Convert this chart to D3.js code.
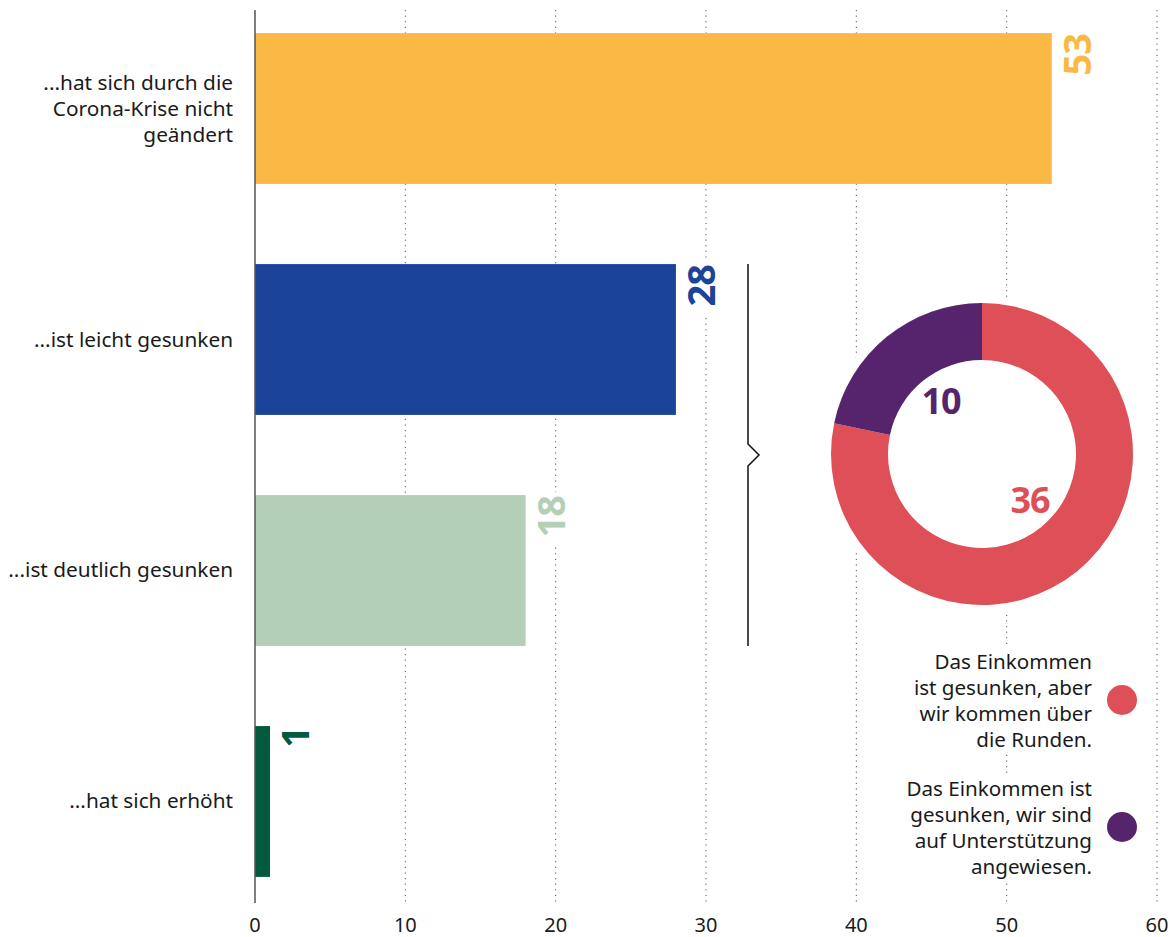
<!DOCTYPE html>
<html>
<head>
<meta charset="utf-8">
<script src="https://cdn.jsdelivr.net/npm/d3@7"></script>
<style>
  body { margin: 0; background: #fff; }
  svg { display: block; font-family: "Noto Sans", sans-serif; }
</style>
</head>
<body>
<div id="app"></div>
<script>
// data
var categories = ['erhalten', 'leicht', 'deutlich', 'erhoeht'];
var categoryLines = [
  ['...hat sich durch die', 'Corona-Krise nicht', 'geändert'],
  ['...ist leicht gesunken'],
  ['...ist deutlich gesunken'],
  ['...hat sich erhöht']
];
var values = [53, 28, 18, 1];
var barColors = ['#F9B944', '#1A4399', '#B3CFB6', '#03593D'];
var xTicks = [0, 10, 20, 30, 40, 50, 60];

var donutValues = [36, 10];
var donutColors = ['#DE4F58', '#56246C'];
var legendLines = [
  ['Das Einkommen', 'ist gesunken, aber', 'wir kommen über', 'die Runden.'],
  ['Das Einkommen ist', 'gesunken, wir sind', 'auf Unterstützung', 'angewiesen.']
];

var width = 1171, height = 937;
var plotLeft = 255, plotRight = 1157, plotTop = 10, plotBottom = 903;

var svg = d3.select('#app').append('svg')
  .attr('width', width)
  .attr('height', height);

var x = d3.scaleLinear().domain([0, 60]).range([plotLeft, plotRight]);
var y = d3.scaleBand().domain(categories)
  .range([plotTop, plotBottom - 3])
  .paddingInner(0.347)
  .paddingOuter(0.1);

// grid
svg.append('g')
  .selectAll('line')
  .data(xTicks.slice(1))
  .enter().append('line')
  .attr('x1', d => x(d)).attr('x2', d => x(d))
  .attr('y1', plotTop).attr('y2', plotBottom)
  .attr('stroke', '#555')
  .attr('stroke-width', 1)
  .attr('stroke-dasharray', '1.2,4.4');

// tick labels
svg.append('g')
  .selectAll('text')
  .data(xTicks)
  .enter().append('text')
  .attr('x', d => x(d))
  .attr('y', 932)
  .attr('text-anchor', 'middle')
  .attr('font-size', 20)
  .attr('fill', '#1a1a1a')
  .text(d => d);

// bars
svg.append('g')
  .selectAll('rect')
  .data(values)
  .enter().append('rect')
  .attr('x', x(0))
  .attr('y', (d, i) => y(categories[i]))
  .attr('width', d => x(d) - x(0))
  .attr('height', y.bandwidth())
  .attr('fill', (d, i) => barColors[i]);

// axis line
svg.append('line')
  .attr('x1', plotLeft).attr('x2', plotLeft)
  .attr('y1', plotTop).attr('y2', plotBottom)
  .attr('stroke', '#555')
  .attr('stroke-width', 1.5);

// category labels
var cat = svg.append('g').selectAll('text')
  .data(categoryLines)
  .enter().append('text')
  .attr('text-anchor', 'end')
  .attr('font-size', 20.8)
  .attr('fill', '#1a1a1a')
  .attr('transform', (d, i) => 'translate(233,' + (y(categories[i]) + y.bandwidth() / 2) + ')');
cat.each(function (lines) {
  var n = lines.length;
  d3.select(this).selectAll('tspan')
    .data(lines)
    .enter().append('tspan')
    .attr('x', 0)
    .attr('y', (l, j) => (j - (n - 1) / 2) * 26 + 7)
    .text(l => l);
});

// value labels, rotated
var vl = svg.append('g').selectAll('g')
  .data(values)
  .enter().append('g')
  .attr('transform', (d, i) => 'translate(' + (x(d) + 39) + ',' + (y(categories[i]) + 1) + ') rotate(-90)');
vl.append('rect')
  .attr('x', -50).attr('y', -32)
  .attr('width', 54).attr('height', 36)
  .attr('fill', '#fff');
vl.append('text')
  .attr('text-anchor', 'end')
  .attr('font-size', 38)
  .attr('font-weight', 700)
  .attr('letter-spacing', -1)
  .attr('fill', (d, i) => barColors[i])
  .text(d => d);

// bracket for the two "gesunken" bars
var bx = 748;
var by0 = y('leicht'), by1 = y('deutlich') + y.bandwidth();
var bm = (by0 + by1) / 2;
svg.append('path')
  .attr('d', 'M' + bx + ',' + by0 + 'V' + (bm - 11) + 'L' + (bx + 11) + ',' + bm + 'L' + bx + ',' + (bm + 11) + 'V' + by1)
  .attr('fill', 'none')
  .attr('stroke', '#111')
  .attr('stroke-width', 1.5);

// donut
var cx = 982, cy = 454, outerR = 151, innerR = 94;
var donut = svg.append('g').attr('transform', 'translate(' + cx + ',' + cy + ')');
donut.append('circle').attr('r', outerR + 8).attr('fill', '#fff');
var pie = d3.pie().sort(null);
var arc = d3.arc().innerRadius(innerR).outerRadius(outerR);
donut.selectAll('path')
  .data(pie(donutValues))
  .enter().append('path')
  .attr('d', arc)
  .attr('fill', (d, i) => donutColors[i]);
var donutLabelPos = [[48, 46], [-41, -53]];
donut.selectAll('text')
  .data(donutValues)
  .enter().append('text')
  .attr('x', (d, i) => donutLabelPos[i][0])
  .attr('y', (d, i) => donutLabelPos[i][1] + 13)
  .attr('text-anchor', 'middle')
  .attr('font-size', 36)
  .attr('font-weight', 700)
  .attr('letter-spacing', -1)
  .attr('fill', (d, i) => donutColors[i])
  .text(d => d);

// legend
var legTop = [662, 789];
var leg = svg.append('g').selectAll('g')
  .data(legendLines)
  .enter().append('g')
  .attr('transform', (d, i) => 'translate(1092,' + legTop[i] + ')');
leg.append('rect')
  .attr('x', -192).attr('y', -15)
  .attr('width', 197).attr('height', 106)
  .attr('fill', '#fff');
leg.each(function (lines) {
  d3.select(this).append('text')
    .attr('text-anchor', 'end')
    .attr('font-size', 20.6)
    .attr('fill', '#1a1a1a')
    .selectAll('tspan')
    .data(lines)
    .enter().append('tspan')
    .attr('x', 0)
    .attr('y', (l, j) => j * 26 + 7)
    .text(l => l);
});
leg.append('circle')
  .attr('cx', 30).attr('cy', 38)
  .attr('r', 15)
  .attr('fill', (d, i) => donutColors[i]);
</script>
</body>
</html>
